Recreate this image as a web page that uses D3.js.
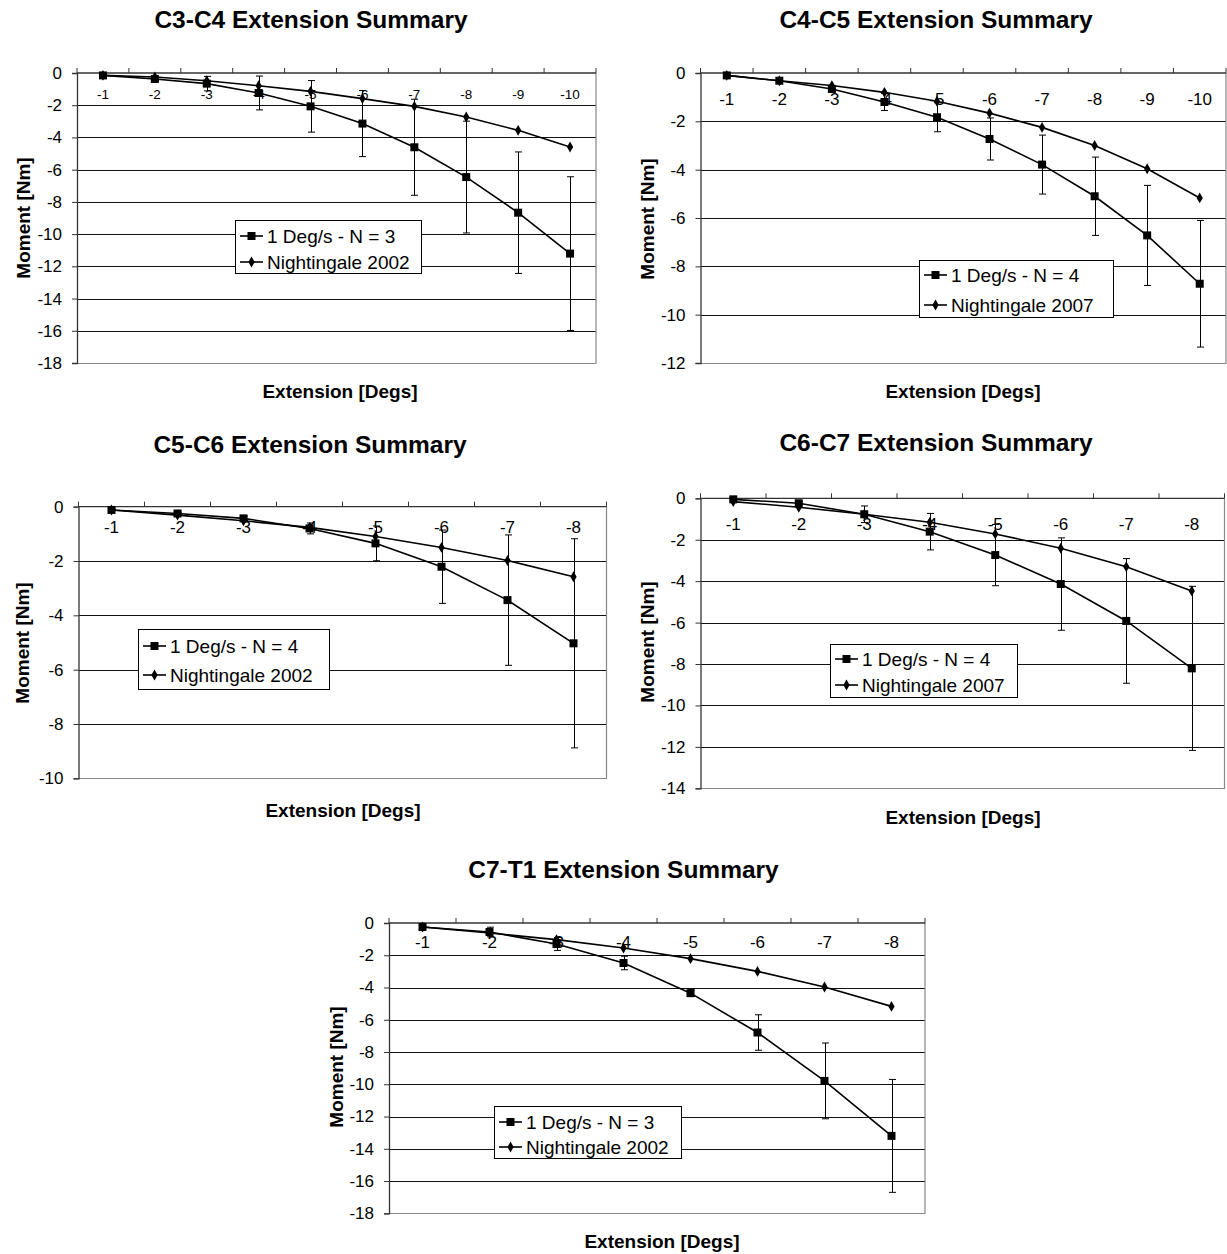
<!DOCTYPE html>
<html>
<head>
<meta charset="utf-8">
<script src="https://cdn.jsdelivr.net/npm/d3@7"></script>
<style>
  html, body { margin: 0; padding: 0; background: #fff; }
  svg { display: block; }
  text { font-family: "Liberation Sans", Arial, sans-serif; fill: #000; }
</style>
</head>
<body>
<svg id="chart" width="1227" height="1254"></svg>
<script>
// ---------------- DATA ----------------
const cats10 = ["-1", "-2", "-3", "-4", "-5", "-6", "-7", "-8", "-9", "-10"];
const cats8 = ["-1", "-2", "-3", "-4", "-5", "-6", "-7", "-8"];

// C3-C4
const c3c4Test = [-0.15, -0.37, -0.66, -1.24, -2.07, -3.14, -4.61, -6.46, -8.67, -11.21];
const c3c4Err  = [0.05, 0.1, 0.45, 1.05, 1.6, 2.05, 2.98, 3.47, 3.77, 4.77];
const c3c4Ref  = [-0.15, -0.25, -0.48, -0.79, -1.14, -1.59, -2.07, -2.73, -3.56, -4.59];
const c3c4Ticks = [0, -2, -4, -6, -8, -10, -12, -14, -16, -18];

// C4-C5
const c4c5Test = [-0.1, -0.32, -0.66, -1.2, -1.83, -2.73, -3.79, -5.1, -6.72, -8.72];
const c4c5Err  = [0.03, 0.05, 0.1, 0.35, 0.6, 0.87, 1.22, 1.62, 2.07, 2.62];
const c4c5Ref  = [-0.1, -0.32, -0.52, -0.8, -1.17, -1.66, -2.25, -3.0, -3.96, -5.17];
const c4c5Ticks = [0, -2, -4, -6, -8, -10, -12];

// C5-C6
const c5c6Test = [-0.12, -0.25, -0.43, -0.8, -1.35, -2.21, -3.44, -5.03];
const c5c6Err  = [0.03, 0.05, 0.08, 0.2, 0.64, 1.35, 2.4, 3.85];
const c5c6Ref  = [-0.12, -0.31, -0.52, -0.76, -1.1, -1.5, -1.98, -2.58];
const c5c6Ticks = [0, -2, -4, -6, -8, -10];

// C6-C7
const c6c7Test = [-0.05, -0.24, -0.77, -1.61, -2.74, -4.14, -5.92, -8.21];
const c6c7Err  = [0.05, 0.08, 0.4, 0.88, 1.48, 2.23, 3.01, 3.96];
const c6c7Ref  = [-0.16, -0.43, -0.77, -1.16, -1.72, -2.41, -3.3, -4.47];
const c6c7Ticks = [0, -2, -4, -6, -8, -10, -12, -14];

// C7-T1
const c7t1Test = [-0.25, -0.56, -1.3, -2.48, -4.35, -6.79, -9.79, -13.2];
const c7t1Err  = [0.05, 0.3, 0.4, 0.42, 0.2, 1.1, 2.35, 3.5];
const c7t1Ref  = [-0.25, -0.62, -1.03, -1.55, -2.21, -3.0, -3.97, -5.17];
const c7t1Ticks = [0, -2, -4, -6, -8, -10, -12, -14, -16, -18];

const titles = ["C3-C4 Extension Summary", "C4-C5 Extension Summary", "C5-C6 Extension Summary",
                "C6-C7 Extension Summary", "C7-T1 Extension Summary"];
const testLabels = ["1 Deg/s - N = 3", "1 Deg/s - N = 4", "1 Deg/s - N = 4", "1 Deg/s - N = 4", "1 Deg/s - N = 3"];
const refLabels = ["Nightingale 2002", "Nightingale 2007", "Nightingale 2002", "Nightingale 2007", "Nightingale 2002"];
const xAxisTitle = "Extension [Degs]";
const yAxisTitle = "Moment [Nm]";

// ---------------- LAYOUT ----------------
const layouts = [
  { cats: cats10, test: c3c4Test, err: c3c4Err, ref: c3c4Ref, ticks: c3c4Ticks,
    plot: [77, 73, 596, 363], title: [311, 28], xt: [340, 398], yt: [23, 218],
    xFont: 13.5, xLabDy: 26, legend: [235, 220, 186, 53, 236, 262] },
  { cats: cats10, test: c4c5Test, err: c4c5Err, ref: c4c5Ref, ticks: c4c5Ticks,
    plot: [700.5, 73, 1226, 363], title: [936, 28], xt: [963, 398], yt: [647, 219],
    xFont: 17, xLabDy: 32, legend: [919, 260, 194, 57, 275, 305] },
  { cats: cats8, test: c5c6Test, err: c5c6Err, ref: c5c6Ref, ticks: c5c6Ticks,
    plot: [78.5, 506.7, 606.5, 778.3], title: [310, 453], xt: [343, 817], yt: [22, 643],
    xFont: 17, xLabDy: 26, legend: [138, 629, 191, 60, 646, 675] },
  { cats: cats8, test: c6c7Test, err: c6c7Err, ref: c6c7Ref, ticks: c6c7Ticks,
    plot: [700.5, 498.3, 1224.5, 788.3], title: [936, 451], xt: [963, 824], yt: [647, 642],
    xFont: 17, xLabDy: 31.5, legend: [830, 644, 187, 53, 659, 685] },
  { cats: cats8, test: c7t1Test, err: c7t1Err, ref: c7t1Ref, ticks: c7t1Ticks,
    plot: [389, 923, 925, 1213.3], title: [623.5, 878], xt: [662, 1248], yt: [336, 1067],
    xFont: 17, xLabDy: 25, legend: [494, 1106, 187, 52, 1122, 1147] }
];

const svg = d3.select("#chart");
const square = d3.symbol().type(d3.symbolSquare).size(64);
const diamond = d3.symbol().type(d3.symbolDiamond).size(34);

layouts.forEach((L, i) => {
  const [x0, y0, x1, y1] = L.plot;
  const g = svg.append("g");
  const x = d3.scaleBand().domain(L.cats).range([x0, x1]);
  const y = d3.scaleLinear().domain([d3.min(L.ticks), 0]).range([y1, y0]);
  const cx = c => x(c) + x.bandwidth() / 2;

  // gridlines
  g.append("g").selectAll("line").data(L.ticks.filter(t => t !== 0 && t !== d3.min(L.ticks)))
    .join("line")
    .attr("x1", x0).attr("x2", x1)
    .attr("y1", d => Math.round(y(d)) + 0.5).attr("y2", d => Math.round(y(d)) + 0.5)
    .attr("stroke", "#111").attr("stroke-width", 1);

  // border right & bottom
  g.append("path")
    .attr("d", `M${x1},${y(0)}V${Math.round(y(d3.min(L.ticks))) + 0.5}H${x0}`)
    .attr("fill", "none").attr("stroke", "#888").attr("stroke-width", 1.2);

  // y axis
  const ya = g.append("g").attr("transform", `translate(${x0},0)`)
    .call(d3.axisLeft(y).tickValues(L.ticks).tickSize(5).tickPadding(10).tickFormat(d => String(d)));
  ya.select(".domain").attr("stroke", "#333").attr("stroke-width", 1.3);
  ya.selectAll(".tick line").attr("stroke", "#333");
  ya.selectAll(".tick text").style("font-size", "17px").attr("fill", "#000")
    .style("font-family", "'Liberation Sans', Arial, sans-serif");

  // x axis line at 0 with ticks pointing up at band boundaries
  g.append("line").attr("x1", x0).attr("x2", x1).attr("y1", y(0)).attr("y2", y(0))
    .attr("stroke", "#333").attr("stroke-width", 1.3);
  const bounds = L.cats.map(c => x(c)).concat([x1]);
  g.append("g").selectAll("line").data(bounds).join("line")
    .attr("x1", d => d).attr("x2", d => d).attr("y1", y(0)).attr("y2", y(0) - 5)
    .attr("stroke", "#333");
  g.append("g").selectAll("text").data(L.cats).join("text")
    .attr("x", d => cx(d)).attr("y", y(0) + L.xLabDy)
    .attr("text-anchor", "middle").style("font-size", L.xFont + "px").text(d => d);

  // error bars (test series)
  const eb = g.append("g").attr("stroke", "#000").attr("stroke-width", 1);
  L.cats.forEach((c, k) => {
    const v = L.test[k], e = L.err[k];
    const X = Math.round(cx(c)) + 0.5;
    eb.append("line").attr("x1", X).attr("x2", X).attr("y1", y(v + e)).attr("y2", y(v - e));
    eb.append("line").attr("x1", X - 3.5).attr("x2", X + 3.5).attr("y1", y(v + e)).attr("y2", y(v + e));
    eb.append("line").attr("x1", X - 3.5).attr("x2", X + 3.5).attr("y1", y(v - e)).attr("y2", y(v - e));
  });

  const line = d3.line().x((d, k) => cx(L.cats[k])).y(d => y(d));
  g.append("path").datum(L.ref).attr("d", line).attr("fill", "none").attr("stroke", "#000").attr("stroke-width", 1.6);
  g.append("path").datum(L.test).attr("d", line).attr("fill", "none").attr("stroke", "#000").attr("stroke-width", 1.6);

  g.append("g").selectAll("path").data(L.ref).join("path")
    .attr("transform", (d, k) => `translate(${cx(L.cats[k])},${y(d)})`)
    .attr("d", diamond).attr("fill", "#000");
  g.append("g").selectAll("path").data(L.test).join("path")
    .attr("transform", (d, k) => `translate(${cx(L.cats[k])},${y(d)})`)
    .attr("d", square).attr("fill", "#000");

  // titles
  svg.append("text").attr("x", L.title[0]).attr("y", L.title[1]).attr("text-anchor", "middle")
    .style("font-size", "24.5px").style("font-weight", "bold").text(titles[i]);
  svg.append("text").attr("x", L.xt[0]).attr("y", L.xt[1]).attr("text-anchor", "middle")
    .style("font-size", "19px").style("font-weight", "bold").text(xAxisTitle);
  svg.append("text").attr("transform", `translate(${L.yt[0]},${L.yt[1]}) rotate(-90)`)
    .attr("text-anchor", "middle").attr("dy", "0.35em")
    .style("font-size", "19px").style("font-weight", "bold").text(yAxisTitle);

  // legend
  const [lx, ly, lw, lh, r1, r2] = L.legend;
  const lg = svg.append("g");
  lg.append("rect").attr("x", lx + 0.5).attr("y", ly + 0.5).attr("width", lw).attr("height", lh)
    .attr("fill", "#fff").attr("stroke", "#000").attr("stroke-width", 1);
  [[r1, square, testLabels[i]], [r2, diamond, refLabels[i]]].forEach(([ry, sym, lab]) => {
    lg.append("line").attr("x1", lx + 5).attr("x2", lx + 28).attr("y1", ry).attr("y2", ry)
      .attr("stroke", "#000").attr("stroke-width", 1.6);
    lg.append("path").attr("transform", `translate(${lx + 16.5},${ry})`).attr("d", sym).attr("fill", "#000");
    lg.append("text").attr("x", lx + 32).attr("y", ry).attr("dy", "0.35em")
      .style("font-size", "19px").text(lab);
  });
});
</script>
</body>
</html>
